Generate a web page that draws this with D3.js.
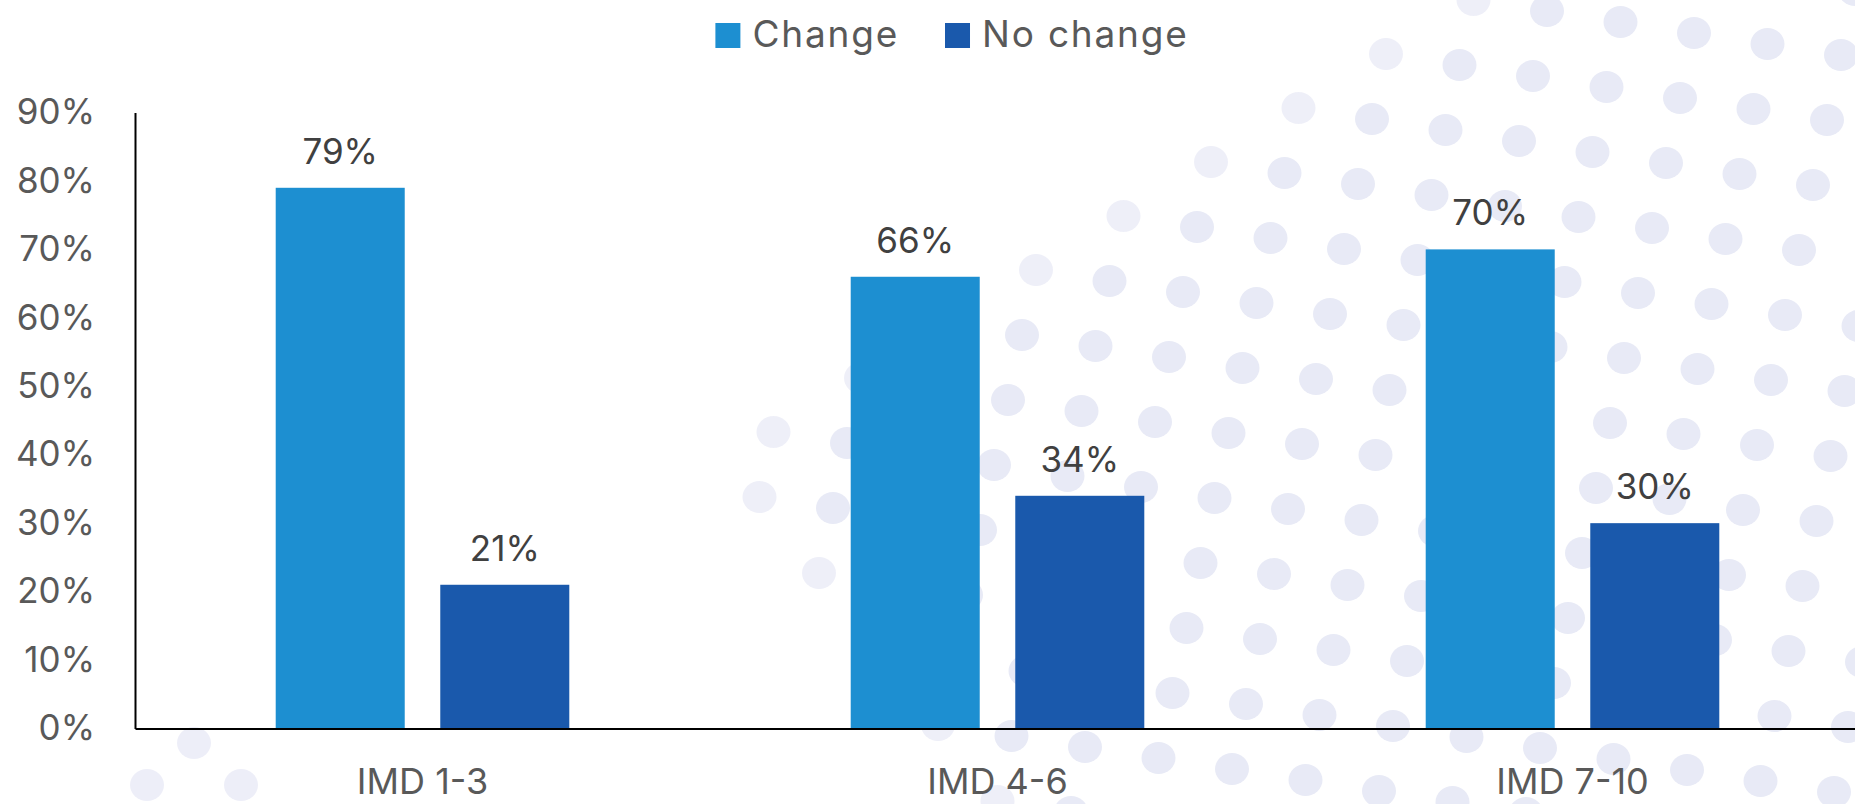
<!DOCTYPE html>
<html>
<head>
<meta charset="utf-8">
<script src="https://cdn.jsdelivr.net/npm/d3@7"></script>
<style>
  html, body { margin: 0; padding: 0; background: #ffffff; }
  svg { display: block; }
  text { font-family: "Inter", "Lato", "DejaVu Sans", sans-serif; }
</style>
</head>
<body>
<svg id="chart" width="1855" height="804"></svg>
<script>
// Share of respondents by deprivation band (IMD deciles)
const categories = ["IMD 1-3", "IMD 4-6", "IMD 7-10"];
const series = ["Change", "No change"];
const changeValues = [0.79, 0.66, 0.70];
const noChangeValues = [0.21, 0.34, 0.30];
const yTicks = [0, 0.1, 0.2, 0.3, 0.4, 0.5, 0.6, 0.7, 0.8, 0.9];
const seriesColors = ["#1d8fd1", "#1a59ac"];

const W = 1855, H = 804;
const svg = d3.select("#chart");

const rows = categories.map((c, i) => ({
  category: c,
  values: [
    { key: series[0], value: changeValues[i] },
    { key: series[1], value: noChangeValues[i] }
  ]
}));

// ---- decorative dotted backdrop (tilted lattice with a diagonal left edge) ----
const deco = svg.append("g").attr("class", "backdrop");
const stepA = [73.5, 11], stepB = [-14, 65], origin = [1008, 400];
function leftEdge(py) {
  if (py < 432) return 775 + (432 - py) * 1.613;
  return 765 + Math.max(0, py - 500) * 0.8;
}
const dots = [];
for (let i = -25; i <= 25; i++) {
  for (let j = -15; j <= 15; j++) {
    const px = origin[0] + i * stepA[0] + j * stepB[0];
    const py = origin[1] + i * stepA[1] + j * stepB[1];
    if (px < -20 || px > W + 20 || py < -20 || py > H + 20) continue;
    const margin = px - leftEdge(py);
    if (margin < -12) continue;
    const o = margin < 30 ? 0.75 : 1;
    dots.push({ x: px, y: py, o });
  }
}
// small cluster near the lower left corner
[[194, 743], [147, 785], [241, 785]].forEach(p => dots.push({ x: p[0], y: p[1], o: 0.8 }));

deco.selectAll("ellipse")
  .data(dots)
  .join("ellipse")
  .attr("cx", d => d.x)
  .attr("cy", d => d.y)
  .attr("rx", 17)
  .attr("ry", 16)
  .attr("fill", "#e8eaf6")
  .attr("opacity", d => d.o);

// ---- scales ----
const x0 = d3.scaleBand().domain(categories).range([135, 1860]).paddingInner(0).paddingOuter(0);
const x1 = d3.scaleBand().domain(series).range([0, x0.bandwidth()]).paddingInner(0.216).paddingOuter(0.855);
const y = d3.scaleLinear().domain([0, 0.9]).range([728.5, 112.5]);
const color = d3.scaleOrdinal().domain(series).range(seriesColors);

// ---- bars ----
const groups = svg.append("g").selectAll("g")
  .data(rows)
  .join("g")
  .attr("transform", d => `translate(${x0(d.category)},0)`);

groups.selectAll("rect")
  .data(d => d.values)
  .join("rect")
  .attr("x", d => x1(d.key))
  .attr("y", d => y(d.value))
  .attr("width", x1.bandwidth())
  .attr("height", d => y(0) - y(d.value))
  .attr("fill", d => color(d.key));

// value labels
groups.selectAll("text.value")
  .data(d => d.values)
  .join("text")
  .attr("class", "value")
  .attr("x", d => x1(d.key) + x1.bandwidth() / 2)
  .attr("y", d => y(d.value) - 24)
  .attr("text-anchor", "middle")
  .attr("font-size", 35)
  .attr("fill", "#404040")
  .text(d => d3.format(".0%")(d.value));

// ---- axes ----
const yAxis = d3.axisLeft(y)
  .tickValues(yTicks)
  .tickFormat(d3.format(".0%"))
  .tickSize(0)
  .tickPadding(40);

const gy = svg.append("g").attr("transform", "translate(135,0)").call(yAxis);
gy.select(".domain").attr("stroke", "#000").attr("stroke-width", 2);
gy.selectAll(".tick text")
  .attr("font-size", 35)
  .attr("fill", "#595959")
  .attr("font-family", "Inter, Lato, sans-serif");

const xAxis = d3.axisBottom(x0).tickSize(0).tickPadding(40);
const gx = svg.append("g").attr("transform", `translate(0,${y(0)})`).call(xAxis);
gx.select(".domain").attr("stroke", "#000").attr("stroke-width", 2);
gx.selectAll(".tick text")
  .attr("font-size", 36)
  .attr("fill", "#595959")
  .attr("font-family", "Inter, Lato, sans-serif");

// ---- legend ----
const legend = svg.append("g").attr("class", "legend");
const items = legend.selectAll("g")
  .data(series)
  .join("g");
items.append("rect")
  .attr("width", 25)
  .attr("height", 25)
  .attr("y", 23)
  .attr("fill", d => color(d));
items.append("text")
  .attr("x", 37)
  .attr("y", 47)
  .attr("font-size", 37)
  .attr("letter-spacing", 1.8)
  .attr("fill", "#595959")
  .text(d => d);

const widths = [];
items.each(function () {
  const t = d3.select(this).select("text").node().getComputedTextLength();
  widths.push(37 + t);
});
const gapBetween = 46;
const total = d3.sum(widths) + gapBetween * (widths.length - 1);
let start = 952 - total / 2;
items.attr("transform", (d, i) => {
  const tx = start;
  start += widths[i] + gapBetween;
  return `translate(${tx},0)`;
});
</script>
</body>
</html>
